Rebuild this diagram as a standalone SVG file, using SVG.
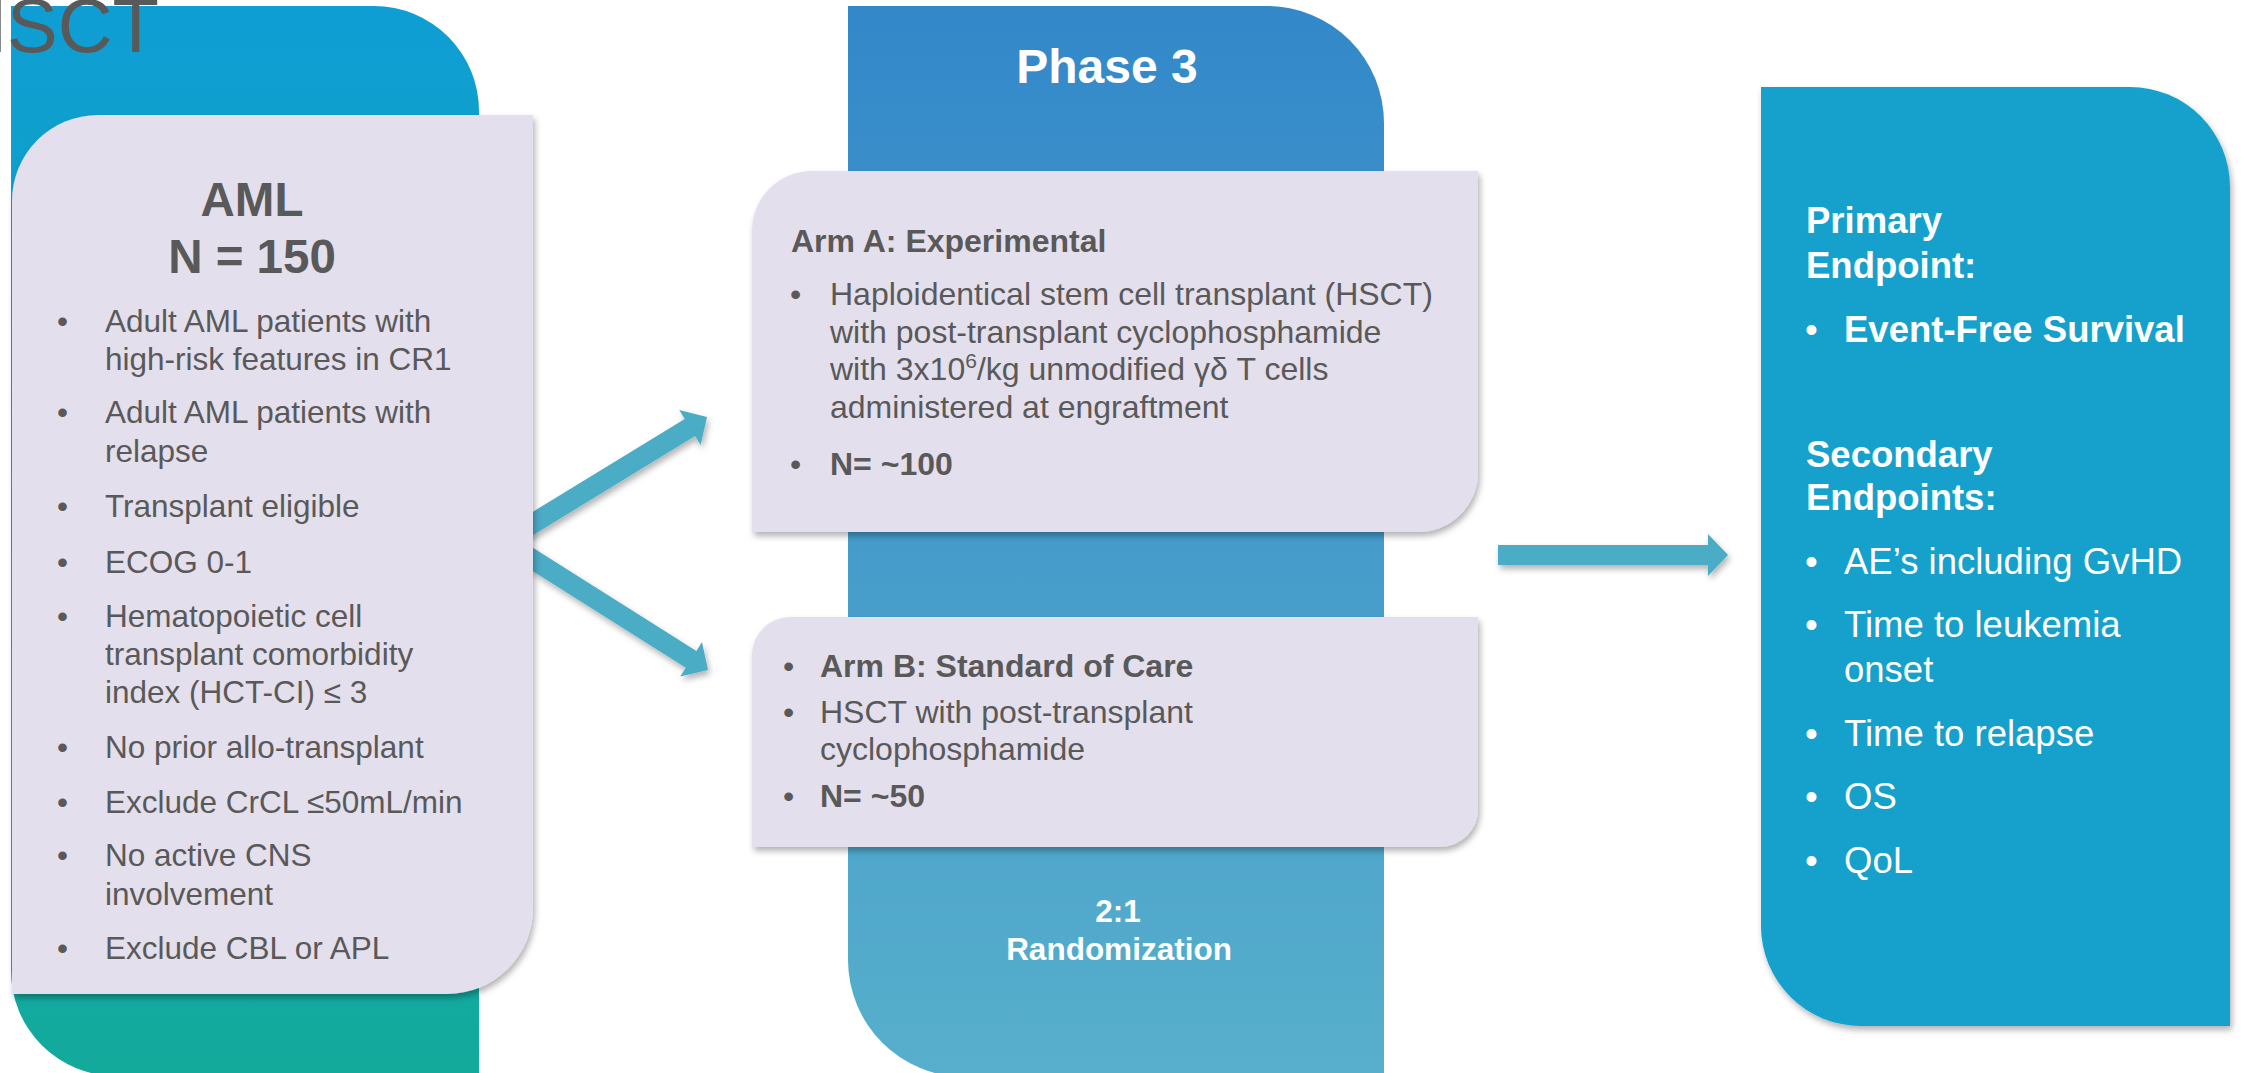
<svg xmlns="http://www.w3.org/2000/svg" width="2241" height="1073" viewBox="0 0 2241 1073">
  <defs>
    <linearGradient id="gLeft" x1="0" y1="0" x2="0" y2="1">
      <stop offset="0" stop-color="#0F9ED4"/>
      <stop offset="1" stop-color="#13AA9B"/>
    </linearGradient>
    <linearGradient id="gMid" x1="0" y1="0" x2="0" y2="1">
      <stop offset="0" stop-color="#3388C9"/>
      <stop offset="1" stop-color="#57AFCC"/>
    </linearGradient>
    <filter id="shadow" x="-10%" y="-10%" width="125%" height="125%">
      <feDropShadow dx="2" dy="4" stdDeviation="3" flood-color="#000" flood-opacity="0.3"/>
    </filter>
    <style>
      text { font-family: "Liberation Sans", Arial, sans-serif; }
      .body { font-size: 31.5px; fill: #595959; }
      .mid { font-size: 32px; fill: #595959; }
      .b { font-weight: bold; }
      .w { fill: #FFFFFF; }
      .rt { font-size: 36.5px; fill: #FFFFFF; }
      .card { fill: #E4DFEC; filter: url(#shadow); }
      .arrow { fill: #4BACC6; filter: url(#shadow); }
    </style>
  </defs>

  <rect width="2241" height="1073" fill="#FFFFFF"/>

  <g id="node-population">
    <path d="M 11 6 H 374 A 105 105 0 0 1 479 111 V 1076 H 116 A 105 105 0 0 1 11 971 Z" fill="url(#gLeft)"/>
  </g>

  <g id="title">
    <text x="159" y="52" text-anchor="end" font-size="76" fill="#595959">HSCT</text>
  </g>

  <g id="node-phase3">
    <path d="M 848 6 H 1267 A 117 117 0 0 1 1384 123 V 1077 H 965 A 117 117 0 0 1 848 960 Z" fill="url(#gMid)"/>
    <text x="1107" y="83" text-anchor="middle" font-size="48" class="b w">Phase 3</text>
    <text x="1118" y="922" text-anchor="middle" font-size="31.5" class="b w">2:1</text>
    <text x="1119" y="960" text-anchor="middle" font-size="31.5" class="b w">Randomization</text>
  </g>

  <g id="connectors">
    <polygon class="arrow" points="509.8,525.9 684.7,418.9 679.2,409.9 707,417 700.6,444.9 695.1,435.9 520.2,543"/>
    <polygon class="arrow" points="520.6,539.9 696.4,650.9 702,642 708,670 680.2,676.6 685.8,667.8 510,556.8"/>
    <polygon class="arrow" points="1498,545 1708,545 1708,534 1728,555 1708,576 1708,565 1498,565"/>
  </g>

  <g id="node-eligibility">
    <path class="card" d="M 98 115 H 533 V 908 A 86 86 0 0 1 447 994 H 12 V 201 A 86 86 0 0 1 98 115 Z"/>
    <text x="252" y="216" text-anchor="middle" font-size="47.5" fill="#595959" class="b">AML</text>
    <text x="252" y="273" text-anchor="middle" font-size="47.5" fill="#595959" class="b">N = 150</text>
    <g class="body">
      <text x="57" y="332">•</text>
      <text x="105" y="332">Adult AML patients with</text>
      <text x="105" y="370">high-risk features in CR1</text>
      <text x="57" y="423">•</text>
      <text x="105" y="423">Adult AML patients with</text>
      <text x="105" y="462">relapse</text>
      <text x="57" y="517">•</text>
      <text x="105" y="517">Transplant eligible</text>
      <text x="57" y="573">•</text>
      <text x="105" y="573">ECOG 0-1</text>
      <text x="57" y="627">•</text>
      <text x="105" y="627">Hematopoietic cell</text>
      <text x="105" y="665">transplant comorbidity</text>
      <text x="105" y="703">index (HCT-CI) ≤ 3</text>
      <text x="57" y="758">•</text>
      <text x="105" y="758">No prior allo-transplant</text>
      <text x="57" y="813">•</text>
      <text x="105" y="813">Exclude CrCL ≤50mL/min</text>
      <text x="57" y="866">•</text>
      <text x="105" y="866">No active CNS</text>
      <text x="105" y="905">involvement</text>
      <text x="57" y="959">•</text>
      <text x="105" y="959">Exclude CBL or APL</text>
    </g>
  </g>

  <g id="node-armA">
    <path class="card" d="M 812 171 H 1478 V 472 A 60 60 0 0 1 1418 532 H 752 V 231 A 60 60 0 0 1 812 171 Z"/>
    <g class="mid">
      <text x="791" y="252" class="b">Arm A: Experimental</text>
      <text x="790" y="305">•</text>
      <text x="830" y="305">Haploidentical stem cell transplant (HSCT)</text>
      <text x="830" y="343">with post-transplant cyclophosphamide</text>
      <text x="830" y="380">with 3x10<tspan dy="-12" font-size="21">6</tspan><tspan dy="12">/kg unmodified γδ T cells</tspan></text>
      <text x="830" y="418">administered at engraftment</text>
      <text x="790" y="475">•</text>
      <text x="830" y="475" class="b">N= ~100</text>
    </g>
  </g>

  <g id="node-armB">
    <path class="card" d="M 790 617 H 1478 V 809 A 38 38 0 0 1 1440 847 H 752 V 655 A 38 38 0 0 1 790 617 Z"/>
    <g class="mid">
      <text x="783" y="677">•</text>
      <text x="820" y="677" class="b">Arm B: Standard of Care</text>
      <text x="783" y="723">•</text>
      <text x="820" y="723">HSCT with post-transplant</text>
      <text x="820" y="760">cyclophosphamide</text>
      <text x="783" y="807">•</text>
      <text x="820" y="807" class="b">N= ~50</text>
    </g>
  </g>

  <g id="node-endpoints">
    <path d="M 1761 87 H 2130 A 100 100 0 0 1 2230 187 V 1026 H 1861 A 100 100 0 0 1 1761 926 Z" fill="#15A1CC" filter="url(#shadow)"/>
    <g class="rt">
      <text x="1806" y="233" class="b">Primary</text>
      <text x="1806" y="278" class="b">Endpoint:</text>
      <text x="1805" y="342">•</text>
      <text x="1844" y="342" class="b">Event-Free Survival</text>
      <text x="1806" y="467" class="b">Secondary</text>
      <text x="1806" y="510" class="b">Endpoints:</text>
      <text x="1805" y="574">•</text>
      <text x="1844" y="574">AE’s including GvHD</text>
      <text x="1805" y="637">•</text>
      <text x="1844" y="637">Time to leukemia</text>
      <text x="1844" y="682">onset</text>
      <text x="1805" y="746">•</text>
      <text x="1844" y="746">Time to relapse</text>
      <text x="1805" y="809">•</text>
      <text x="1844" y="809">OS</text>
      <text x="1805" y="873">•</text>
      <text x="1844" y="873">QoL</text>
    </g>
  </g>
</svg>
